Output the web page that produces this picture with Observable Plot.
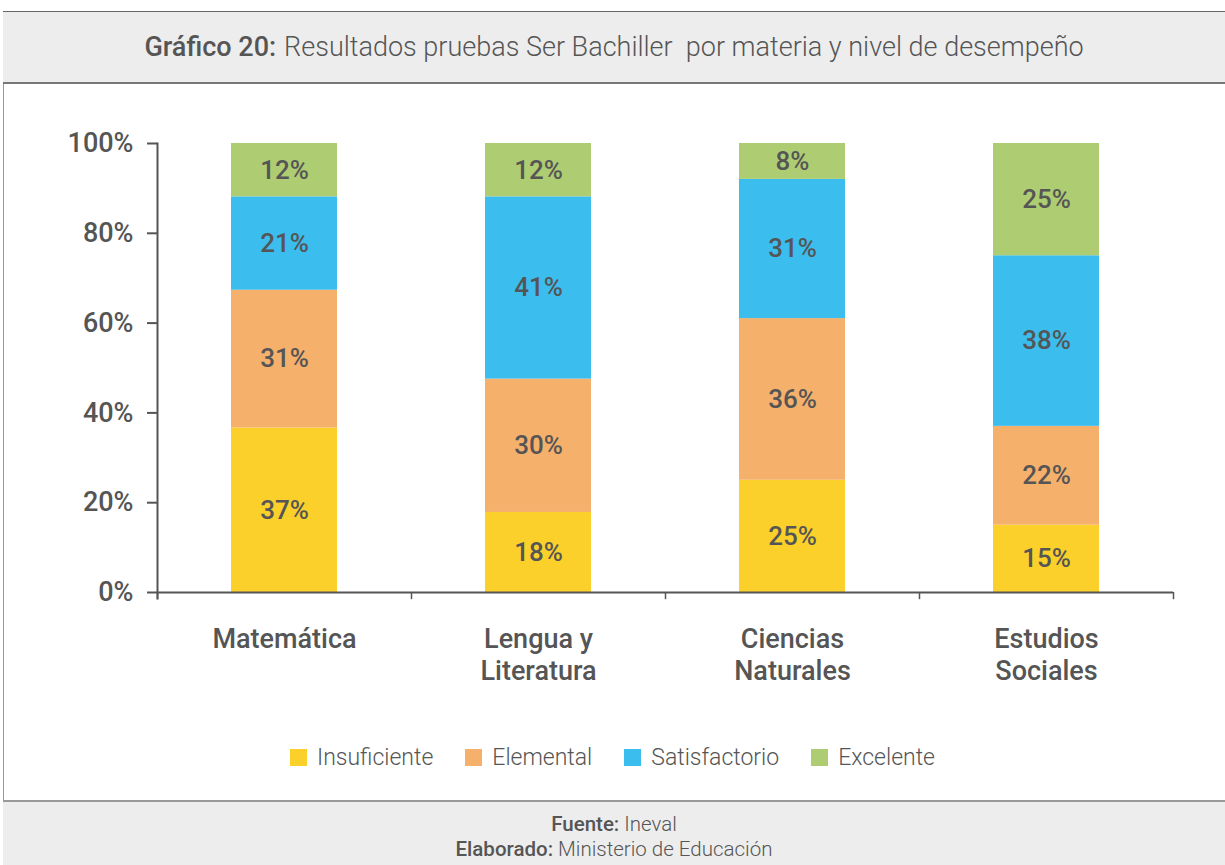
<!DOCTYPE html>
<html>
<head>
<meta charset="utf-8">
<script src="https://cdn.jsdelivr.net/npm/d3@7"></script>
<script src="https://cdn.jsdelivr.net/npm/@observablehq/plot@0.6"></script>
<style>
  html, body { margin: 0; padding: 0; background: #fff; }
  body { width: 1225px; height: 865px; position: relative; overflow: hidden; font-family: Roboto, sans-serif; color: #555; }
  #leftline { position: absolute; left: 3px; top: 11px; width: 1px; height: 854px; background: #999; }
  #title { position: absolute; left: 3px; top: 11px; width: 1222px; height: 70px; background: #ededed; border-top: 1px solid #666; border-bottom: 2px solid #777; display: flex; align-items: center; justify-content: center; font-size: 27px; font-weight: 300; color: #555; }
  #title b { font-weight: 500; margin-right: 8px; }
  #chart { position: absolute; left: 0; top: 90px; }
  #legend { position: absolute; top: 744px; left: 0; width: 1225px; display: flex; justify-content: center; font-weight: 300; font-size: 23px; color: #555; }
  #legend .item { display: flex; align-items: center; margin: 0 16px; }
  #legend .sw { width: 17px; height: 17px; margin-right: 10px; }
  #footer { position: absolute; left: 3px; top: 800px; width: 1222px; height: 65px; background: #ededed; border-top: 2px solid #999; text-align: center; font-weight: 300; font-size: 20.5px; color: #555; line-height: 25px; padding-top: 10px; box-sizing: border-box; }
  #footer b { font-weight: 500; }
</style>
</head>
<body>
<div id="leftline"></div>
<div id="title"><span><b>Gráfico 20:</b>Resultados pruebas Ser Bachiller&nbsp; por materia y nivel de desempeño</span></div>
<div id="chart"></div>
<div id="legend"></div>
<div id="footer"><div><b>Fuente:</b> Ineval</div><div><b>Elaborado:</b> Ministerio de Educación</div></div>
<script>
const subjects = ["Matemática", "Lengua y Literatura", "Ciencias Naturales", "Estudios Sociales"];
const subjectLabels = ["Matemática", "Lengua y\nLiteratura", "Ciencias\nNaturales", "Estudios\nSociales"];
const levels = ["Insuficiente", "Elemental", "Satisfactorio", "Excelente"];
const colors = ["#fcd02a", "#f5b06c", "#3bbdee", "#aecd72"];
const insuficiente = [37, 18, 25, 15];
const elemental = [31, 30, 36, 22];
const satisfactorio = [21, 41, 31, 38];
const excelente = [12, 12, 8, 25];
const yTicks = [0, 20, 40, 60, 80, 100];

const series = [insuficiente, elemental, satisfactorio, excelente];
const data = [];
subjects.forEach((s, i) => levels.forEach((l, j) => data.push({subject: s, level: l, value: series[j][i]})));

const W = 1225, H = 620;
const mL = 157, mR = 52, mT = 53, mB = 118;
const band = (W - mL - mR) / subjects.length;
const barW = 106;
const inset = (band - barW) / 2;
const FONT = "Roboto, sans-serif";

const stackOpts = {x: "subject", y: "value", z: "level", order: levels, offset: "normalize"};

const chart = Plot.plot({
  width: W, height: H,
  marginLeft: mL, marginRight: mR, marginTop: mT, marginBottom: mB,
  style: {fontFamily: FONT, color: "#555", background: "transparent"},
  x: {domain: subjects, padding: 0, axis: null},
  y: {domain: [0, 100], percent: true, axis: null},
  color: {domain: levels, range: colors},
  marks: [
    Plot.barY(data, Plot.stackY({...stackOpts, fill: "level", insetLeft: inset, insetRight: inset})),
    Plot.text(data, Plot.stackY({...stackOpts, text: d => d.value + "%", fill: "#555", fontSize: 26, fontWeight: 500})),
    Plot.frame({anchor: "left", stroke: "#555", strokeWidth: 2, insetBottom: -6}),
    Plot.ruleY([0], {stroke: "#555", strokeWidth: 2}),
    Plot.ruleX(subjects, {x: d => d, y1: 0, y2: -0.016, dx: -band / 2, stroke: "#555", strokeWidth: 1.5}),
    Plot.ruleX(subjects.slice(-1), {x: d => d, y1: 0, y2: -0.016, dx: band / 2, stroke: "#555", strokeWidth: 1.5}),
    Plot.axisY({ticks: yTicks, tickFormat: d => d + "%", label: null, tickSize: 10, tickPadding: 14, fontSize: 27, fontWeight: 500, stroke: "#555", strokeWidth: 2, fill: "#555"}),
    Plot.axisX({label: null, tickSize: 0, tickPadding: 33, fontSize: 27, fontWeight: 500, lineHeight: 1.18, fill: "#555",
      tickFormat: d => subjectLabels[subjects.indexOf(d)]})
  ]
});
document.getElementById("chart").appendChild(chart);

const legend = document.getElementById("legend");
levels.forEach((l, i) => {
  const it = document.createElement("div");
  it.className = "item";
  it.innerHTML = `<span class="sw" style="background:${colors[i]}"></span><span>${l}</span>`;
  legend.appendChild(it);
});
</script>
</body>
</html>
